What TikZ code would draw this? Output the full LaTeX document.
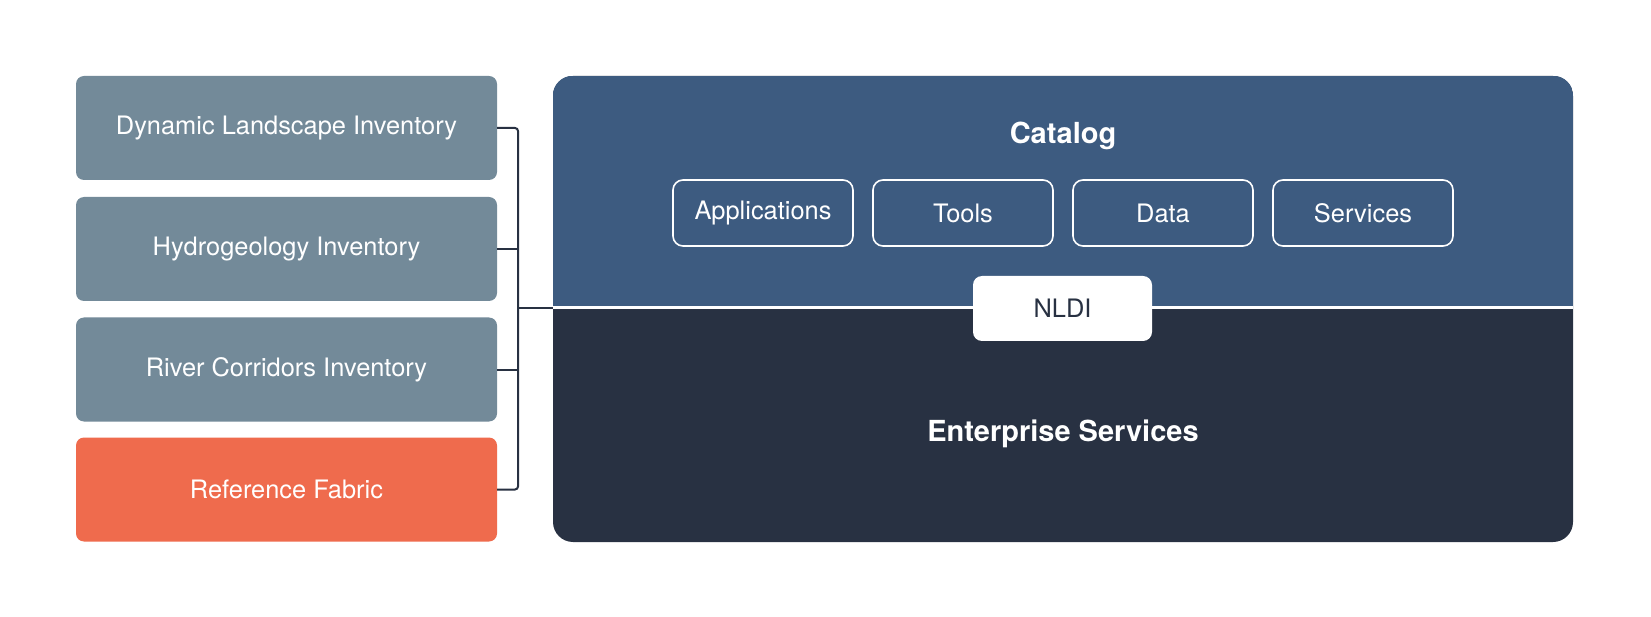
\documentclass[tikz,border=0pt]{standalone}
\usepackage{fontspec}
\setmainfont{TeX Gyre Heros}
\definecolor{invgray}{HTML}{738A99}
\definecolor{reforange}{HTML}{EF6B4D}
\definecolor{catblue}{HTML}{3D5B80}
\definecolor{entdark}{HTML}{283142}
\begin{document}
\begin{tikzpicture}[x=1pt,y=-1pt,
  leftbox/.style={rectangle,rounded corners=8pt,minimum width=421pt,minimum height=104pt,inner sep=0pt,text=white,font=\fontsize{25.4}{30}\selectfont},
  subbox/.style={rectangle,rounded corners=10pt,draw=white,line width=1.6pt,minimum width=180pt,minimum height=66pt,inner sep=0pt,text=white,font=\fontsize{25.4}{30}\selectfont},
  conn/.style={draw=entdark,line width=2pt,rounded corners=3pt},
  title/.style={text=white,font=\bfseries\fontsize{29}{34}\selectfont}]
\useasboundingbox (0,0) rectangle (1651,617);
\fill[white] (0,0) rectangle (1651,617);
% left boxes
\node[leftbox,fill=invgray] (dli) at (286.5,128) {\raisebox{-1pt}{Dynamic Landscape Inventory}};
\node[leftbox,fill=invgray] (hyd) at (286.5,249) {\raisebox{-1pt}{Hydrogeology Inventory}};
\node[leftbox,fill=invgray] (rci) at (286.5,369.5) {\raisebox{-1pt}{River Corridors Inventory}};
\node[leftbox,fill=reforange] (ref) at (286.5,489.5) {\raisebox{-1pt}{Reference Fabric}};
% main platform
\node[rectangle,rounded corners=20pt,fill=entdark,minimum width=1020pt,minimum height=466pt,inner sep=0pt] (main) at (1063,309) {};
\begin{scope}
  \clip[rounded corners=20pt] (main.north west) rectangle (main.south east);
  \fill[catblue] (main.north west) rectangle (1573,308);
\end{scope}
\draw[white,line width=3pt] (main.west |- 0,308) -- (main.east |- 0,308);
\node[title] (catalog) at (1063,136) {Catalog};
\node[title] (ent) at (1063,434) {Enterprise Services};
\node[subbox] (apps) at (763,213) {Applications};
\node[subbox] (tools) at (963,213) {Tools};
\node[subbox] (data) at (1163,213) {Data};
\node[subbox] (serv) at (1363,213) {Services};
\node[rectangle,rounded corners=9pt,fill=white,minimum width=179pt,minimum height=65pt,inner sep=0pt,text=entdark,font=\fontsize{25.4}{30}\selectfont] (nldi) at (1062.5,308.5) {NLDI};
% bracket connectors
\coordinate (bx) at (518,308);
\draw[conn] (dli.east) -| (bx);
\draw[conn] (ref.east) -| (bx);
\draw[conn] (hyd.east) -- (hyd.east -| bx);
\draw[conn] (rci.east) -- (rci.east -| bx);
\draw[conn] (bx) -- (main.west |- bx);
\end{tikzpicture}
\end{document}
